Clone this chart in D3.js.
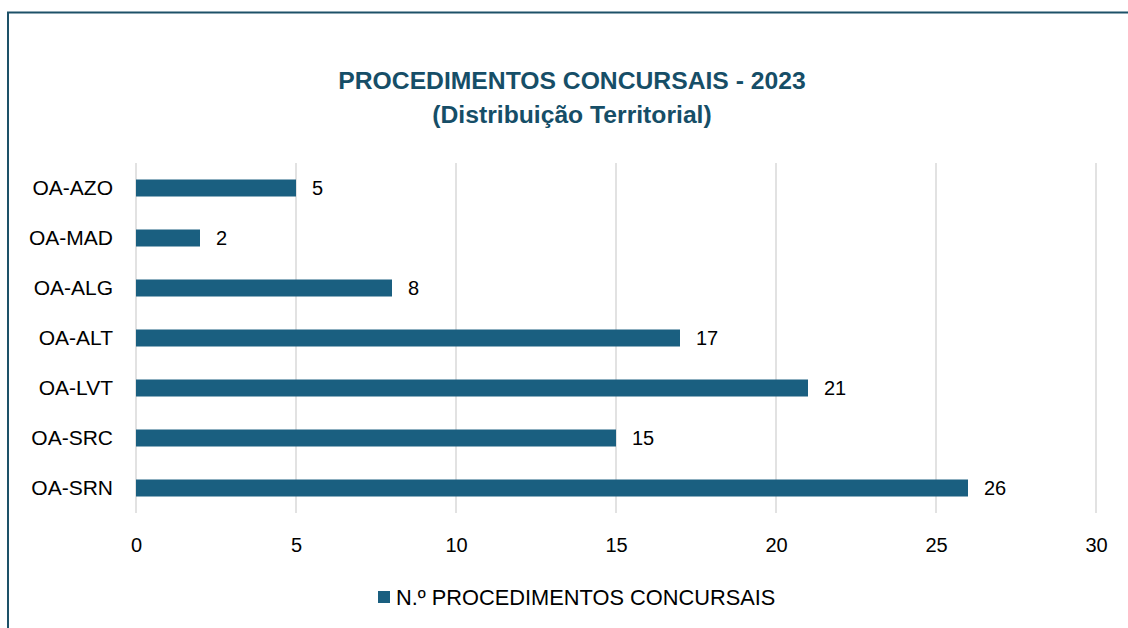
<!DOCTYPE html>
<html>
<head>
<meta charset="utf-8">
<script src="https://cdn.jsdelivr.net/npm/d3@7"></script>
<style>
  body { margin: 0; background: #fff; }
  text { font-family: "Liberation Sans", Arial, sans-serif; }
</style>
</head>
<body>
<div id="chart"></div>
<script>
// data
const categories = ['OA-AZO', 'OA-MAD', 'OA-ALG', 'OA-ALT', 'OA-LVT', 'OA-SRC', 'OA-SRN'];
const values = [5, 2, 8, 17, 21, 15, 26];
const xTicks = [0, 5, 10, 15, 20, 25, 30];
const seriesName = 'N.º PROCEDIMENTOS CONCURSAIS';
const titleLines = ['PROCEDIMENTOS CONCURSAIS - 2023', '(Distribuição Territorial)'];

const width = 1128, height = 628;
const margin = { left: 136, right: 32, top: 163, bottom: 115 };
const graphWidth = width - margin.left - margin.right;
const graphHeight = height - margin.top - margin.bottom;

const barColor = '#1a5f80';
const titleColor = '#164e67';
const labelSize = 20;

const svg = d3.select('#chart')
  .append('svg')
  .attr('width', width)
  .attr('height', height);

// frame (left + top edges visible)
svg.append('path')
  .attr('d', `M8,${height} L8,12.5 L${width},12.5`)
  .attr('fill', 'none')
  .attr('stroke', '#1d5168')
  .attr('stroke-width', 2);

// title
svg.append('text')
  .attr('text-anchor', 'middle')
  .attr('fill', titleColor)
  .attr('font-weight', 'bold')
  .attr('font-size', 24.7)
  .selectAll('tspan')
  .data(titleLines)
  .enter()
  .append('tspan')
    .attr('x', 572)
    .attr('y', (d, i) => 89 + i * 34)
    .text(d => d);

const graph = svg.append('g')
  .attr('transform', `translate(${margin.left}, ${margin.top})`);

// scales
const x = d3.scaleLinear().domain([0, 30]).range([0, graphWidth]);
const y = d3.scaleBand().domain(categories).range([0, graphHeight]).paddingInner(0.66).paddingOuter(0.33);

// gridlines
graph.append('g')
  .selectAll('line')
  .data(xTicks)
  .enter()
  .append('line')
    .attr('x1', d => x(d))
    .attr('x2', d => x(d))
    .attr('y1', 0)
    .attr('y2', graphHeight)
    .attr('stroke', '#d9d9d9')
    .attr('stroke-width', 1.5);

// x axis
const xAxis = d3.axisBottom(x).tickValues(xTicks).tickSize(0).tickPadding(25);
const xAxisGroup = graph.append('g')
  .attr('transform', `translate(0, ${graphHeight})`)
  .call(xAxis);
xAxisGroup.select('.domain').remove();
xAxisGroup.selectAll('text')
  .attr('font-size', labelSize)
  .attr('fill', '#000')
  .style('font-family', '"Liberation Sans", Arial, sans-serif');

// y axis
const yAxis = d3.axisLeft(y).tickSize(0).tickPadding(23);
const yAxisGroup = graph.append('g').call(yAxis);
yAxisGroup.select('.domain').remove();
yAxisGroup.selectAll('text')
  .attr('font-size', 21)
  .attr('fill', '#000')
  .style('font-family', '"Liberation Sans", Arial, sans-serif');

// bars
graph.selectAll('rect.bar')
  .data(values)
  .enter()
  .append('rect')
    .attr('class', 'bar')
    .attr('x', x(0))
    .attr('y', (d, i) => y(categories[i]))
    .attr('width', d => x(d) - x(0))
    .attr('height', y.bandwidth())
    .attr('fill', barColor);

// value labels
graph.selectAll('text.val')
  .data(values)
  .enter()
  .append('text')
    .attr('class', 'val')
    .attr('x', d => x(d) + 16)
    .attr('y', (d, i) => y(categories[i]) + y.bandwidth() / 2)
    .attr('dy', '0.36em')
    .attr('font-size', labelSize)
    .attr('fill', '#000')
    .text(d => d);

// legend
const legend = svg.append('g').attr('transform', 'translate(378, 591)');
legend.append('rect')
  .attr('width', 12)
  .attr('height', 12)
  .attr('fill', barColor);
legend.append('text')
  .attr('x', 18)
  .attr('y', 6)
  .attr('dy', '0.36em')
  .attr('font-size', 21.8)
  .attr('fill', '#000')
  .text(seriesName);
</script>
</body>
</html>
